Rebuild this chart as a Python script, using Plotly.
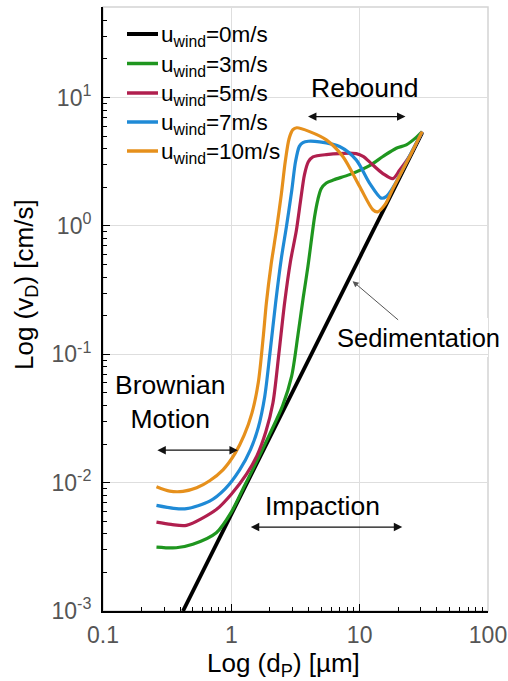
import plotly.graph_objects as go

# ---------------- data ----------------
# particle diameter d_P [um] and deposition velocity v_D [cm/s]
black_d = [0.42, 30.7]
black_v = [0.001, 5.34]

green_d = [0.261, 0.372, 0.501, 0.764, 1.0, 1.259, 1.585, 1.995, 2.512, 2.951, 3.304,
           3.631, 3.954, 4.457, 4.721, 5.012, 5.495, 6.310, 8.337, 11.94, 15.17, 19.28,
           23.07, 27.61, 30.69]
green_v = [0.00315, 0.00311, 0.00331, 0.00407, 0.00589, 0.00933, 0.01479, 0.02399, 0.03981,
           0.06761, 0.1413, 0.2754, 0.4853, 1.186, 1.600, 1.950, 2.163, 2.291, 2.512, 2.951,
           3.475, 4.036, 4.285, 4.898, 5.43]

red_d = [0.261, 0.339, 0.447, 0.764, 1.0, 1.309, 1.585, 1.862, 2.109, 2.344, 2.600, 2.884,
         3.206, 3.467, 3.715, 3.981, 4.325, 5.495, 9.397, 10.72, 11.94, 15.17, 18.16, 20.46,
         24.49, 30.69]
red_v = [0.00493, 0.00473, 0.00465, 0.00618, 0.00813, 0.01159, 0.01622, 0.02512, 0.04169,
         0.1, 0.2512, 0.5248, 0.912, 1.585, 2.512, 3.162, 3.451, 3.597, 3.664, 3.467, 3.155,
         2.559, 2.339, 2.716, 3.508, 5.43]

blue_d = [0.261, 0.355, 0.447, 0.678, 0.891, 1.161, 1.413, 1.622, 1.820, 1.995, 2.213, 2.455,
          2.692, 2.951, 3.162, 3.388, 3.614, 3.981, 4.875, 6.966, 9.397, 11.94, 14.72, 16.11,
          18.20, 24.49, 30.69]
blue_v = [0.00665, 0.00631, 0.00627, 0.00718, 0.00891, 0.01259, 0.01820, 0.02692, 0.04677,
          0.1, 0.2512, 0.5623, 1.0, 1.862, 3.162, 4.169, 4.467, 4.571, 4.519, 4.159,
          3.273, 2.158, 1.648, 1.694, 1.995, 3.508, 5.43]

orange_d = [0.261, 0.331, 0.420, 0.537, 0.678, 0.861, 1.072, 1.259, 1.445, 1.622, 1.778,
            1.875, 2.042, 2.239, 2.455, 2.630, 2.818, 3.020, 3.236, 4.074, 5.495, 7.396,
            10.0, 12.68, 13.80, 15.85, 18.16, 24.49, 30.69]
orange_v = [0.00929, 0.00859, 0.00855, 0.00912, 0.01035, 0.01259, 0.01698, 0.02344, 0.03467,
            0.06026, 0.1413, 0.2512, 0.5012, 0.912, 1.778, 3.162, 4.786, 5.623, 5.821, 5.433,
            4.688, 3.475, 2.028, 1.337, 1.288, 1.479, 1.950, 3.467, 5.43]

series_names = ["u<sub>wind</sub>=0m/s", "u<sub>wind</sub>=3m/s", "u<sub>wind</sub>=5m/s",
                "u<sub>wind</sub>=7m/s", "u<sub>wind</sub>=10m/s"]
series_colors = ["#000000", "#1f961f", "#b01f4e", "#1f8ad6", "#e6901c"]

x_tickvals = [0.1, 1, 10, 100]
x_ticktext = ["0.1", "1", "10", "100"]
y_tickvals = [1e-3, 1e-2, 1e-1, 1e0, 1e1]
y_ticktext = ["10<sup>-3</sup>", "10<sup>-2</sup>", "10<sup>-1</sup>", "10<sup>0</sup>", "10<sup>1</sup>"]

FONT = "Arial, 'Liberation Sans', sans-serif"

fig = go.Figure()
all_d = [black_d, green_d, red_d, blue_d, orange_d]
all_v = [black_v, green_v, red_v, blue_v, orange_v]
for i, (d, v) in enumerate(zip(all_d, all_v)):
    fig.add_trace(go.Scatter(
        x=d, y=v, mode="lines", name=series_names[i], showlegend=False,
        line=dict(color=series_colors[i], width=3.8 if i == 0 else 3.2,
                  shape="linear" if i == 0 else "spline", smoothing=0.8),
    ))

# plot-area geometry (for decorative items in paper coords)
L, R, T, B = 103, 488, 7, 611
W, H = R - L, B - T
def px(xp):
    return (xp - L) / W
def py(yp):
    return (B - yp) / H

shapes = []
# light grey box (top/right frame)
shapes.append(dict(type="rect", xref="paper", yref="paper", x0=0, x1=1, y0=0, y1=1,
                   line=dict(color="#d4d4d4", width=1.5), layer="below"))
# white label backgrounds covering grid lines (legend, Rebound, Sedimentation, Brownian, Impaction)
for (x0, x1, y0, y1) in [(120, 285, 12, 168), (300, 427, 72, 127), (333, 490, 318, 357),
                         (110, 233, 367, 480), (245, 410, 487, 540)]:
    shapes.append(dict(type="rect", xref="paper", yref="paper",
                       x0=px(x0), x1=px(min(x1, R)), y0=py(y1), y1=py(y0),
                       line=dict(width=0), fillcolor="white", layer="between"))

ann = []
# legend (manual, to match the row spacing of the reference)
leg_rows = [34, 63.5, 93, 122, 151]
for i, name in enumerate(series_names):
    shapes.append(dict(type="line", xref="paper", yref="paper",
                       x0=px(127), x1=px(158), y0=py(leg_rows[i]), y1=py(leg_rows[i]),
                       line=dict(color=series_colors[i], width=4 if i == 0 else 3.5)))
    ann.append(dict(x=px(159), y=py(leg_rows[i] + 2), xref="paper", yref="paper",
                    text=name, showarrow=False, xanchor="left", yanchor="middle",
                    font=dict(family=FONT, size=22.5, color="black")))

txt_font = dict(family=FONT, size=26.5, color="black")
ann.append(dict(x=1.038, y=1.074, xref="x", yref="y", text="Rebound", showarrow=False,
                xanchor="center", yanchor="middle", font=txt_font))
ann.append(dict(x=0.805, y=-0.87, xref="x", yref="y", text="Sedimentation", showarrow=False,
                xanchor="left", yanchor="middle", font=dict(family=FONT, size=25.5, color="black")))
ann.append(dict(x=-0.477, y=-1.368, xref="x", yref="y", text="Brownian<br>Motion",
                showarrow=False, xanchor="center", yanchor="middle", font=txt_font))
ann.append(dict(x=0.709, y=-2.183, xref="x", yref="y", text="Impaction", showarrow=False,
                xanchor="center", yanchor="middle", font=txt_font))
# double arrows
for (xh, yh, dx) in [(1.357, 0.852, -99), (0.051, -1.747, -82), (1.332, -2.346, -153)]:
    ann.append(dict(x=xh, y=yh, xref="x", yref="y", ax=dx, ay=0, text="",
                    showarrow=True, arrowside="end+start", arrowhead=2, arrowsize=1.3,
                    arrowwidth=1.3, arrowcolor="#111111", standoff=0, startstandoff=0))
# sedimentation pointer
ann.append(dict(x=0.945, y=-0.43, xref="x", yref="y", ax=47, ay=40, text="",
                showarrow=True, arrowhead=2, arrowsize=1.2, arrowwidth=1,
                arrowcolor="#555555", standoff=0))
# axis titles
ann.append(dict(x=px(283), y=py(665), xref="paper", yref="paper",
                text="Log (d<sub>P</sub>) [µm]", showarrow=False,
                xanchor="center", yanchor="middle",
                font=dict(family=FONT, size=26, color="black")))
ann.append(dict(x=px(25), y=py(285), xref="paper", yref="paper", textangle=-90,
                text="Log (v<sub>D</sub>) [cm/s]", showarrow=False,
                xanchor="center", yanchor="middle",
                font=dict(family=FONT, size=26, color="black")))

axis_common = dict(
    type="log", showgrid=True, gridcolor="#dedede", gridwidth=1, automargin=False,
    showline=True, linecolor="black", linewidth=2, ticks="inside", ticklen=7,
    tickcolor="black", tickwidth=1.2, tickmode="array", zeroline=False,
    tickfont=dict(family=FONT, size=23, color="#555555"), ticklabeloverflow="allow",
    minor=dict(ticks="inside", ticklen=4, tickcolor="black", tickwidth=1,
               dtick="D1", showgrid=False),
)

fig.update_layout(
    width=508, height=681,
    margin=dict(l=L, r=508 - R, t=T, b=681 - B, autoexpand=False),
    paper_bgcolor="white", plot_bgcolor="white",
    font=dict(family=FONT),
    xaxis=dict(axis_common, range=[-1, 2], tickvals=x_tickvals, ticktext=x_ticktext,
               ticklabelstandoff=2),
    yaxis=dict(axis_common, range=[-3, 1.706], tickvals=y_tickvals, ticktext=y_ticktext,
               ticklabelstandoff=5),
    showlegend=False,
    shapes=shapes, annotations=ann,
)

fig.write_html("out.html", config={"displayModeBar": False},
               post_script="document.body.style.margin='0';document.body.style.overflow='hidden';")
